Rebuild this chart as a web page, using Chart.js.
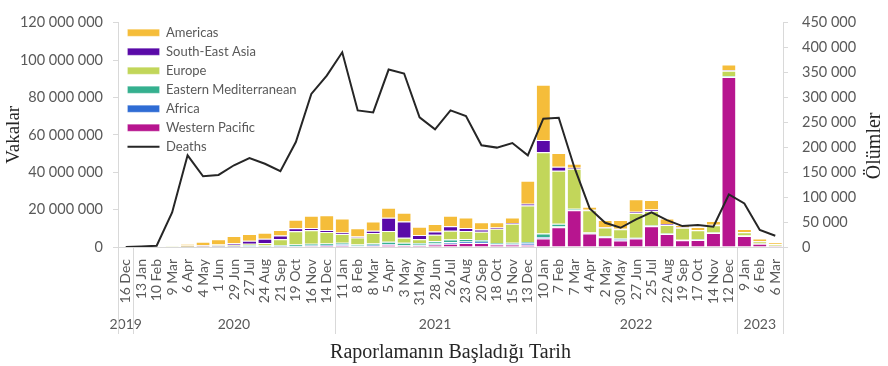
<!DOCTYPE html>
<html>
<head>
<meta charset="utf-8">
<script src="https://cdn.jsdelivr.net/npm/chart.js@4.4.0/dist/chart.umd.min.js"></script>
<style>
html,body{margin:0;padding:0;background:#fff;}
#wrap{width:888px;height:366px;position:relative;}
</style>
</head>
<body>
<div id="wrap"><canvas id="c" width="888" height="366"></canvas></div>
<script>
// ---- data (cases in millions, deaths raw) ----
const categories = ['16 Dec','13 Jan','10 Feb','9 Mar','6 Apr','4 May','1 Jun','29 Jun','27 Jul','24 Aug','21 Sep','19 Oct','16 Nov','14 Dec',
  '11 Jan','8 Feb','8 Mar','5 Apr','3 May','31 May','28 Jun','26 Jul','23 Aug','20 Sep','18 Oct','15 Nov','13 Dec',
  '10 Jan','7 Feb','7 Mar','4 Apr','2 May','30 May','27 Jun','25 Jul','22 Aug','19 Sep','17 Oct','14 Nov','12 Dec',
  '9 Jan','6 Feb','6 Mar'];
const years = [2019,
  2020,2020,2020,2020,2020,2020,2020,2020,2020,2020,2020,2020,2020,
  2021,2021,2021,2021,2021,2021,2021,2021,2021,2021,2021,2021,2021,
  2022,2022,2022,2022,2022,2022,2022,2022,2022,2022,2022,2022,2022,
  2023,2023,2023];
const americas = [0,0,0,0.05, 0.9,1.9,2.9,3.9,3.6,3.2,2.9,4.6,6.6,8.0, 7.5,4.4,5.0,5.3,4.6,4.4,4.0,5.6,5.6,3.9,2.8,2.9,12.2, 29.5,7.3,2.2,1.6,3.8,4.6,6.8,5.0,3.0,1.2,1.6,2.0,3.0, 1.6,1.4,0.6];
const southEastAsia = [0,0,0,0, 0.05,0.15,0.35,0.8,1.6,2.2,2.0,1.6,1.2,1.0, 0.9,0.5,1.2,7.2,8.8,2.2,1.8,2.4,1.7,1.2,0.6,0.5,1.0, 6.6,2.2,0.6,0.3,0.2,0.3,0.6,0.8,0.5,0.3,0.2,0.3,0.3, 0.1,0.1,0.1];
const europe = [0,0,0.01,0.3, 0.6,0.5,0.5,0.5,0.8,1.4,3.2,7.1,7.1,6.1, 4.6,3.8,5.6,5.7,2.6,2.0,3.4,4.7,4.2,4.3,7.6,10.1,19.5, 43.5,28.3,21.4,11.9,4.7,5.0,13.2,7.8,4.6,6.4,4.8,3.8,3.0, 1.8,1.2,0.9];
const easternMediterranean = [0,0,0,0.01, 0.1,0.2,0.3,0.4,0.5,0.5,0.6,0.8,1.0,0.8, 0.8,0.6,1.0,1.2,1.2,1.0,1.2,1.3,1.3,1.0,0.6,0.6,0.5, 1.8,1.5,0.5,0.3,0.2,0.2,0.2,0.3,0.2,0.2,0.2,0.2,0.3, 0.1,0.1,0.1];
const africa = [0,0,0,0, 0.02,0.05,0.1,0.2,0.3,0.2,0.2,0.2,0.3,0.4, 0.7,0.3,0.3,0.4,0.3,0.4,0.6,1.0,0.8,0.6,0.2,0.3,1.0, 0.9,0.5,0.2,0.2,0.3,0.8,0.2,0.1,0.1,0.1,0.1,0.1,0.1, 0.1,0.1,0.05];
const westernPacific = [0,0,0.07,0.1, 0.05,0.05,0.05,0.05,0.1,0.1,0.2,0.3,0.5,0.7, 0.8,0.4,0.6,1.2,0.8,0.8,1.3,1.7,2.2,2.2,1.4,1.4,1.2, 4.5,10.5,19.7,7.2,5.2,3.5,4.6,11.1,6.9,3.6,3.8,7.5,90.9, 5.9,1.7,0.5];
const deaths = [0,1000,2500,69400, 184000,142000,144600,164000,178600,167000,152000,210600,307000,344000,
  390600,274000,270000,356000,348000,260000,236000,274000,262600,204000,199400,208600,184000,
  257400,259400,160600,77400,48600,38600,55400,69400,54000,42000,44000,40600,105400,
  87400,34000,22600];
const casesTicksMax = 120000000, casesStep = 20000000;
const deathsTicksMax = 450000, deathsStep = 50000;

// ---- derived ----
const M = v => v * 1e6;
const yearLabels = categories.map(() => '');
{
  let s = 0;
  for (let i = 1; i <= years.length; i++) {
    if (i === years.length || years[i] !== years[s]) {
      yearLabels[Math.floor((s + i - 1) / 2)] = String(years[s]);
      s = i;
    }
  }
}
const fmt = v => String(Math.round(v)).replace(/\B(?=(\d{3})+(?!\d))/g, ' ');
const legendRank = ['Americas','South-East Asia','Europe','Eastern Mediterranean','Africa','Western Pacific','Deaths'];

Chart.defaults.font.family = 'Lato, "Liberation Sans", sans-serif';
Chart.defaults.color = '#595959';

const barBase = {
  type: 'bar', stack: 'cases', yAxisID: 'y', xAxisID: 'x', order: 1,
  barPercentage: 0.85, categoryPercentage: 1,
  borderColor: '#ffffff', borderWidth: {top: 1, bottom: 0, left: 0, right: 0}, borderSkipped: false,
  pointStyle: 'rect'
};

const legendPlacePlugin = {
  id: 'legendPlace',
  afterLayout(chart) {
    const lg = chart.legend, ca = chart.chartArea;
    if (!lg) return;
    const h = lg.height;
    lg.left = ca.left + 3.5;
    lg.top = ca.top - 2.5;
    lg.bottom = lg.top + h;
  }
};

const sepPlugin = {
  id: 'yearSeparators',
  afterDraw(chart) {
    const xs = chart.scales.x, x2 = chart.scales.x2, ca = chart.chartArea, ctx = chart.ctx;
    const bounds = [ca.left];
    for (let i = 1; i < years.length; i++) {
      if (years[i] !== years[i - 1]) bounds.push((xs.getPixelForValue(i - 1) + xs.getPixelForValue(i)) / 2);
    }
    bounds.push(ca.right);
    ctx.save();
    ctx.strokeStyle = '#d9d9d9';
    ctx.lineWidth = 1;
    bounds.forEach(px => {
      const xx = Math.round(px) + 0.5;
      ctx.beginPath(); ctx.moveTo(xx, ca.bottom); ctx.lineTo(xx, x2.top + 27); ctx.stroke();
    });
    // right axis title (reads bottom to top)
    const y1 = chart.scales.y1;
    ctx.translate(y1.right - 13, (y1.top + y1.bottom) / 2 + 11);
    ctx.rotate(-Math.PI / 2);
    ctx.font = '20px "Liberation Serif", serif';
    ctx.fillStyle = '#262626';
    ctx.textAlign = 'center';
    ctx.textBaseline = 'middle';
    ctx.fillText('Ölümler', 0, 0);
    ctx.restore();
  }
};

new Chart(document.getElementById('c'), {
  data: {
    labels: categories,
    datasets: [
      Object.assign({}, barBase, {label: 'Western Pacific', data: westernPacific.map(M), backgroundColor: '#B7158F'}),
      Object.assign({}, barBase, {label: 'Africa', data: africa.map(M), backgroundColor: '#2F6CD4'}),
      Object.assign({}, barBase, {label: 'Eastern Mediterranean', data: easternMediterranean.map(M), backgroundColor: '#35B08F'}),
      Object.assign({}, barBase, {label: 'Europe', data: europe.map(M), backgroundColor: '#C2D65A'}),
      Object.assign({}, barBase, {label: 'South-East Asia', data: southEastAsia.map(M), backgroundColor: '#5A0AA8'}),
      Object.assign({}, barBase, {label: 'Americas', data: americas.map(M), backgroundColor: '#F5BD3A'}),
      {type: 'line', label: 'Deaths', data: deaths, yAxisID: 'y1', xAxisID: 'x', order: 0,
       borderColor: '#262626', backgroundColor: '#262626', borderWidth: 2, pointRadius: 0, tension: 0, fill: false, pointStyle: 'line'}
    ]
  },
  options: {
    responsive: false,
    animation: false,
    layout: {padding: {top: 22, left: 0, right: 0, bottom: 0}},
    plugins: {
      tooltip: {enabled: false},
      legend: {
        position: 'chartArea', align: 'start',
        labels: {
          usePointStyle: true, pointStyleWidth: 32, boxHeight: 7,
          font: {size: 13}, color: '#595959', padding: 6,
          sort: (a, b) => legendRank.indexOf(a.text) - legendRank.indexOf(b.text)
        }
      }
    },
    scales: {
      x: {
        type: 'category', position: 'bottom', offset: true,
        grid: {display: false},
        border: {display: true, color: '#d9d9d9', width: 1},
        ticks: {autoSkip: false, minRotation: 90, maxRotation: 90, padding: 4, font: {size: 14}, color: '#595959'},
        afterFit: s => { s.height = 60; }
      },
      x2: {
        type: 'category', position: 'bottom', offset: true, labels: yearLabels,
        grid: {display: false, drawTicks: false},
        border: {display: false},
        ticks: {autoSkip: false, minRotation: 0, maxRotation: 0, padding: 9, font: {size: 14}, color: '#595959'},
        title: {display: true, text: 'Raporlamanın Başladığı Tarih', color: '#262626',
                font: {family: '"Liberation Serif", serif', size: 20}, padding: {top: 0, bottom: 1}},
        afterFit: s => { s.height = 59; }
      },
      y: {
        type: 'linear', position: 'left', stacked: true, min: 0, max: casesTicksMax,
        grid: {drawOnChartArea: false, drawTicks: true, tickLength: 5, color: '#d9d9d9'},
        border: {display: true, color: '#d9d9d9'},
        ticks: {stepSize: casesStep, padding: 10, font: {size: 14.5}, color: '#595959', callback: v => fmt(v)},
        title: {display: true, text: 'Vakalar', color: '#262626', font: {family: '"Liberation Serif", serif', size: 19}, padding: {top: 3, bottom: 0}},
        afterFit: s => { s.width = 118; }
      },
      y1: {
        type: 'linear', position: 'right', min: 0, max: deathsTicksMax,
        grid: {drawOnChartArea: false, drawTicks: true, tickLength: 5, color: '#d9d9d9'},
        border: {display: true, color: '#d9d9d9'},
        ticks: {stepSize: deathsStep, padding: 14, font: {size: 14.5}, color: '#595959', callback: v => fmt(v)},
        afterFit: s => { s.width = 105; }
      }
    }
  },
  plugins: [legendPlacePlugin, sepPlugin]
});
</script>
</body>
</html>
